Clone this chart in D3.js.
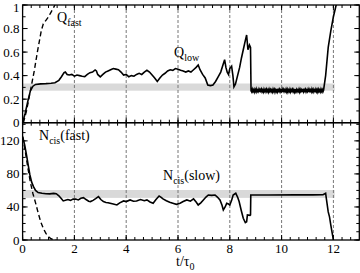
<!DOCTYPE html>
<html><head><meta charset="utf-8">
<script src="https://cdn.jsdelivr.net/npm/d3@7"></script>
<style>body{margin:0;background:#fff}svg{display:block}text{font-family:"Liberation Serif","DejaVu Serif",serif;fill:#000}</style>
</head><body><svg id="c" width="360" height="273"></svg>
<script>
// ---- data ----
const xTicks = [0,2,4,6,8,10,12];
const qTicks = [0,0.2,0.4,0.6,0.8,1];
const nTicks = [0,40,80,120];
const qBand = [0.272,0.333];
const nBand = [51,60.5];
const bandT = [0,12.05];
const qFast = [[0.03,0],[0.15,0.1],[0.3,0.27],[0.45,0.44],[0.57,0.6],[0.72,0.78],[0.8,0.84],[0.9,0.87],[1.0,0.9],[1.1,0.94],[1.2,0.98],[1.34,1.04]];
const qLowA = [[0,0],[0.1,0.08],[0.2,0.18],[0.3,0.27],[0.4,0.31],[0.5,0.325],[0.7,0.33],[0.9,0.332],[1.1,0.335],[1.25,0.34],[1.4,0.36],[1.5,0.39],[1.6,0.425],[1.65,0.43],[1.72,0.41],[1.8,0.405],[1.9,0.41],[2.0,0.395],[2.1,0.405],[2.2,0.4],[2.3,0.395],[2.4,0.392],[2.5,0.41],[2.6,0.425],[2.7,0.43],[2.8,0.448],[2.85,0.44],[2.9,0.41],[3.0,0.39],[3.1,0.41],[3.2,0.43],[3.3,0.44],[3.4,0.45],[3.5,0.46],[3.6,0.455],[3.7,0.45],[3.8,0.43],[3.9,0.405],[4.0,0.41],[4.1,0.39],[4.2,0.4],[4.3,0.395],[4.4,0.41],[4.5,0.42],[4.6,0.41],[4.7,0.43],[4.8,0.445],[4.9,0.43],[5.0,0.405],[5.1,0.38],[5.2,0.35],[5.3,0.38],[5.4,0.405],[5.5,0.42],[5.6,0.44],[5.7,0.45],[5.8,0.445],[5.9,0.46],[6.0,0.455],[6.1,0.445],[6.2,0.44],[6.3,0.43],[6.4,0.44],[6.5,0.43],[6.6,0.45],[6.7,0.47],[6.78,0.49],[6.85,0.45],[6.95,0.41],[7.05,0.38],[7.15,0.32],[7.25,0.315],[7.35,0.32],[7.45,0.35],[7.55,0.39],[7.65,0.43],[7.75,0.5],[7.8,0.535],[7.85,0.47],[7.9,0.43],[7.95,0.41],[8.0,0.46],[8.07,0.48],[8.12,0.4],[8.16,0.305],[8.22,0.33],[8.3,0.4],[8.38,0.47],[8.45,0.55],[8.52,0.62],[8.6,0.7],[8.65,0.745],[8.7,0.62],[8.76,0.66],[8.8,0.64]];
// plateau after the jump: start time, step, and values read along it
const qFlatStart = 8.82, qFlatStep = 0.025;
const qFlatV = [0.272,0.262,0.284,0.266,0.279,0.261,0.283,0.268,0.286,0.263,0.277,0.265,0.282,0.26,0.281,0.269,0.285,0.264,0.278,0.262,0.284,0.267,0.28,0.263,0.283,0.266,0.279,0.261,0.285,0.268,0.281,0.264,0.278,0.262,0.284,0.267,0.282,0.26,0.279,0.265,0.286,0.263,0.28,0.268,0.283,0.262,0.277,0.266,0.284,0.261,0.281,0.264,0.279,0.267,0.285,0.263,0.282,0.26,0.278,0.266,0.284,0.262,0.28,0.268,0.283,0.264,0.279,0.261,0.285,0.265,0.281,0.263,0.278,0.267,0.284,0.262,0.282,0.266,0.279,0.26,0.286,0.264,0.28,0.268,0.283,0.262,0.277,0.265,0.284,0.261,0.281,0.267,0.279,0.263,0.285,0.266,0.282,0.262,0.278,0.268,0.284,0.264,0.28,0.261,0.283,0.266,0.279,0.263,0.285,0.267,0.281,0.262,0.276];
const qLowB = [[11.7,0.4],[11.8,0.64],[11.9,0.78],[12.0,0.9],[12.15,1.04]];
const nFast = [[0,125],[0.1,108],[0.2,88],[0.3,70],[0.4,56],[0.5,45],[0.6,33],[0.7,22],[0.8,14],[0.9,8],[1.0,4],[1.1,1.5],[1.2,0.3],[1.3,0]];
const nSlow = [[0,125],[0.08,115],[0.15,103],[0.22,90],[0.28,79],[0.35,70],[0.42,64.6],[0.5,60],[0.6,57.5],[0.75,56.5],[0.9,56],[1.05,55.8],[1.2,56.4],[1.3,56],[1.4,53.5],[1.5,50],[1.57,47.3],[1.65,48],[1.75,49],[1.85,48],[1.95,49.5],[2.05,49.7],[2.15,48.5],[2.25,50.5],[2.35,51.3],[2.45,49],[2.55,47],[2.62,46.5],[2.72,48],[2.82,50],[2.93,52.5],[3.02,49],[3.12,46.5],[3.22,45.5],[3.3,45],[3.38,44.4],[3.5,43.5],[3.64,42.4],[3.75,45],[3.9,47.3],[4.0,46.5],[4.15,48.5],[4.28,47],[4.4,47.3],[4.55,49],[4.7,47.5],[4.8,48.5],[4.92,46],[5.04,44.4],[5.15,49],[5.27,53.3],[5.35,51.5],[5.42,49.7],[5.55,47.5],[5.68,45.7],[5.8,44.5],[5.94,43.2],[6.08,44.4],[6.2,46.5],[6.34,48.5],[6.48,47],[6.6,49.7],[6.7,46],[6.78,42.4],[6.88,45],[6.98,48.5],[7.08,52],[7.17,54.5],[7.3,54],[7.43,54.5],[7.52,52],[7.62,48.5],[7.7,42],[7.75,36.4],[7.82,40],[7.88,44.4],[7.95,43.5],[8.0,42.4],[8.07,48],[8.13,54.5],[8.23,56.6],[8.3,52],[8.36,46.5],[8.44,36],[8.52,26.3],[8.6,21],[8.65,22],[8.68,30.3],[8.78,29.9],[8.8,30.5],[8.81,54.5],[9.5,54.5],[10.5,54.6],[11.2,54.6],[11.6,54.8],[11.7,56.6],[11.72,52],[11.8,34],[11.85,28],[11.9,18],[11.95,9],[12.0,0]];

const qLow = qLowA.concat(qFlatV.map((v,i)=>[qFlatStart+i*qFlatStep,v]), qLowB);

// ---- layout ----
const L=22.6, R=359.3, T1=5, B1=122.7, B2=240;
const svg=d3.select("#c");
const x=d3.scaleLinear().domain([0,13]).range([L,R]);
const yq=d3.scaleLinear().domain([0,1]).range([B1,T1]);
const yn=d3.scaleLinear().domain([0,142]).range([B2,B1]);

svg.append("defs").html(`<clipPath id="cp1"><rect x="${L}" y="${T1}" width="${R-L}" height="${B1-T1}"/></clipPath><clipPath id="cp2"><rect x="${L}" y="${B1}" width="${R-L}" height="${B2-B1}"/></clipPath>`);

// bands
svg.append("rect").attr("x",x(bandT[0])).attr("width",x(bandT[1])-x(bandT[0])).attr("y",yq(qBand[1])).attr("height",yq(qBand[0])-yq(qBand[1])).attr("fill","#d9d9d9");
svg.append("rect").attr("x",x(bandT[0])).attr("width",x(bandT[1])-x(bandT[0])).attr("y",yn(nBand[1])).attr("height",yn(nBand[0])-yn(nBand[1])).attr("fill","#d9d9d9");

// gridlines
xTicks.filter(d=>d>0).forEach(d=>{
  svg.append("line").attr("x1",x(d)).attr("x2",x(d)).attr("y1",T1).attr("y2",B2).attr("stroke","#777").attr("stroke-width",1).attr("stroke-dasharray","3,2");
});

// ticks
function ticks(scale, vals, len, horiz, pos, dir){
  vals.forEach(v=>{
    const p=scale(v);
    if(horiz) svg.append("line").attr("x1",p).attr("x2",p).attr("y1",pos).attr("y2",pos+dir*len).attr("stroke","#000");
    else svg.append("line").attr("y1",p).attr("y2",p).attr("x1",pos).attr("x2",pos+dir*len).attr("stroke","#000");
  });
}
const xMinor=d3.range(0,39).map(i=>i/3).filter(v=>v<=13.05);
[[T1,1],[B1,-1],[B1,1],[B2,-1]].forEach(([p,d])=>{ticks(x,xMinor,3,true,p,d);ticks(x,xTicks,5,true,p,d);});
const qMinor=d3.range(0,11).map(i=>i/10);
[[L,1],[R,-1]].forEach(([p,d])=>{ticks(yq,qMinor,3,false,p,d);ticks(yq,qTicks,5,false,p,d);ticks(yn,d3.range(0,141,10),3,false,p,d);ticks(yn,nTicks,5,false,p,d);});

// frames
svg.append("rect").attr("x",L).attr("y",T1).attr("width",R-L).attr("height",B1-T1).attr("fill","none").attr("stroke","#000").attr("stroke-width",1.3);
svg.append("rect").attr("x",L).attr("y",B1).attr("width",R-L).attr("height",B2-B1).attr("fill","none").attr("stroke","#000").attr("stroke-width",1.3);

// lines
const lq=d3.line().x(d=>x(d[0])).y(d=>yq(d[1]));
const ln=d3.line().x(d=>x(d[0])).y(d=>yn(d[1]));
const g1=svg.append("g").attr("clip-path","url(#cp1)");
const g2=svg.append("g").attr("clip-path","url(#cp2)");
g1.append("path").attr("d",lq(qFast)).attr("fill","none").attr("stroke","#000").attr("stroke-width",1.4).attr("stroke-dasharray","5,3");
g1.append("path").attr("d",lq(qLow)).attr("fill","none").attr("stroke","#000").attr("stroke-width",1.6);
g2.append("path").attr("d",ln(nFast)).attr("fill","none").attr("stroke","#000").attr("stroke-width",1.4).attr("stroke-dasharray","5,3");
g2.append("path").attr("d",ln(nSlow)).attr("fill","none").attr("stroke","#000").attr("stroke-width",1.6);

// tick labels
qTicks.forEach(v=>svg.append("text").attr("x",19.5).attr("y",Math.max(yq(v)+4.5,11.5)).attr("text-anchor","end").attr("font-size",13).text(v===0||v===1?String(v):v.toFixed(1)));
nTicks.forEach(v=>svg.append("text").attr("x",19.5).attr("y",yn(v)+4.5).attr("text-anchor","end").attr("font-size",13).text(v));
xTicks.forEach(v=>svg.append("text").attr("x",x(v)).attr("y",252.5).attr("text-anchor","middle").attr("font-size",13).text(v));

// axis title
const at=svg.append("text").attr("x",176).attr("y",266).attr("font-size",14);
at.append("tspan").text("t/τ");
at.append("tspan").attr("dy",3.5).attr("font-size",10).text("0");

// labels
function lab(xp,yp,main,sub,rest){
  const t=svg.append("text").attr("x",xp).attr("y",yp).attr("font-size",14);
  t.append("tspan").text(main);
  t.append("tspan").attr("dy",4).attr("font-size",10).text(sub);
  if(rest) t.append("tspan").attr("dy",-4).text(rest);
}
lab(57,22,"Q","fast");
lab(174,57,"Q","low");
lab(39,140,"N","cis","(fast)");
lab(163,180,"N","cis","(slow)");
</script></body></html>
